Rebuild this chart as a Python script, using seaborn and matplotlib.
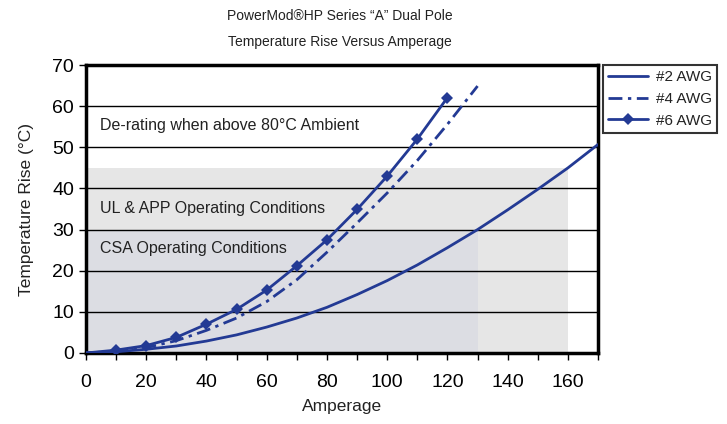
import numpy as np
import pandas as pd
import seaborn as sns
import matplotlib as mpl
mpl.use('Agg')
import matplotlib.pyplot as plt

# 数据
amps_2 = [0, 10, 20, 30, 40, 50, 60, 70, 80, 90, 100, 110, 120, 130, 140, 150, 160, 170]
rise_2 = [0, 0.3, 0.9, 1.7, 2.9, 4.4, 6.3, 8.5, 11.1, 14.2, 17.6, 21.4, 25.6, 30.0, 34.8, 39.8, 45.0, 50.7]

amps_4 = [0, 10, 20, 30, 40, 50, 60, 70, 80, 90, 100, 110, 120, 130]
rise_4 = [0, 0.4, 1.3, 3.0, 5.5, 8.5, 12.5, 17.8, 24.5, 31.6, 38.9, 46.8, 55.6, 64.9]

amps_6 = [0, 10, 20, 30, 40, 50, 60, 70, 80, 90, 100, 110, 120]
rise_6 = [0, 0.7, 1.8, 3.8, 7.0, 10.6, 15.3, 21.2, 27.5, 34.9, 43.0, 52.0, 62.1]

labels = ['#2 AWG', '#4 AWG', '#6 AWG']

# 区域
derate_box = (160, 45)   # 浅灰区域 宽, 高
csa_box = (130, 30)      # 深一点的区域

sns.set_style('white')
plt.rcParams['font.family'] = ['Liberation Sans', 'DejaVu Sans']

navy = '#233a94'
txt = '#222222'

df = pd.concat([
    pd.DataFrame({'Amperage': amps_2, 'Rise': rise_2, 'label': labels[0]}),
    pd.DataFrame({'Amperage': amps_4, 'Rise': rise_4, 'label': labels[1]}),
    pd.DataFrame({'Amperage': amps_6, 'Rise': rise_6, 'label': labels[2]}),
])

fig = plt.figure(figsize=(7.27, 4.24), dpi=100)
ax = fig.add_axes([0.1183, 0.1675, 0.7043, 0.679])

ax.add_patch(plt.Rectangle((0, 0), derate_box[0], derate_box[1], color='#e6e6e6', zorder=0, lw=0))
ax.add_patch(plt.Rectangle((0, 0), csa_box[0], csa_box[1], color='#dcdde3', zorder=0.5, lw=0))

for y in range(10, 70, 10):
    ax.axhline(y, color='black', lw=1, zorder=1)

styles = {'#2 AWG': dict(ls='-', marker=None),
          '#4 AWG': dict(ls=(0, (5, 2, 1.2, 2)), marker=None),
          '#6 AWG': dict(ls='-', marker='D')}
for lab in labels:
    sub = df[df['label'] == lab]
    st = styles[lab]
    sns.lineplot(data=sub, x='Amperage', y='Rise', ax=ax, color=navy, lw=2,
                 linestyle=st['ls'], marker=st['marker'], markersize=6.5,
                 markeredgewidth=0, label=lab, zorder=3,
                 markevery=list(range(1, len(sub))) if st['marker'] else None)

ax.set_xlim(0, 170)
ax.set_ylim(0, 70)
ax.set_xticks(range(0, 171, 10))
ax.set_xticklabels([str(v) if v % 20 == 0 else '' for v in range(0, 171, 10)])
ax.set_yticks(range(0, 71, 10))
ax.tick_params(axis='both', which='both', direction='out', length=5, width=1,
               colors='black', labelsize=14, bottom=True, left=True)
ax.tick_params(axis='x', pad=10)
for s in ax.spines.values():
    s.set_color('black')
    s.set_linewidth(2.5)

ax.set_xlabel('Amperage', fontsize=12.5, color=txt, labelpad=6)
ax.set_ylabel('Temperature Rise (°C)', fontsize=12.5, color=txt, labelpad=13)

ax.text(4.6, 55.4, 'De-rating when above 80°C Ambient', fontsize=11.5,
        va='center', ha='left', color=txt, zorder=2)
ax.text(4.6, 35.2, 'UL & APP Operating Conditions', fontsize=11.5,
        va='center', ha='left', color=txt, zorder=2)
ax.text(4.6, 25.5, 'CSA Operating Conditions', fontsize=11.5,
        va='center', ha='left', color=txt, zorder=2)

fig.text(0.468, 0.962, 'PowerMod®HP Series “A” Dual Pole', fontsize=10,
         ha='center', va='center', color=txt)
fig.text(0.468, 0.901, 'Temperature Rise Versus Amperage', fontsize=10,
         ha='center', va='center', color=txt)

leg = ax.legend(loc='upper left', bbox_to_anchor=(1.01, 1.0), frameon=True, fancybox=False,
                prop={'size': 11}, handlelength=2.6, borderpad=0.35,
                labelspacing=0.5, handletextpad=0.5, borderaxespad=0)
leg.get_frame().set_edgecolor('black')
leg.get_frame().set_linewidth(1.5)
for t in leg.get_texts():
    t.set_color(txt)

plt.savefig('out.png', dpi=100)
